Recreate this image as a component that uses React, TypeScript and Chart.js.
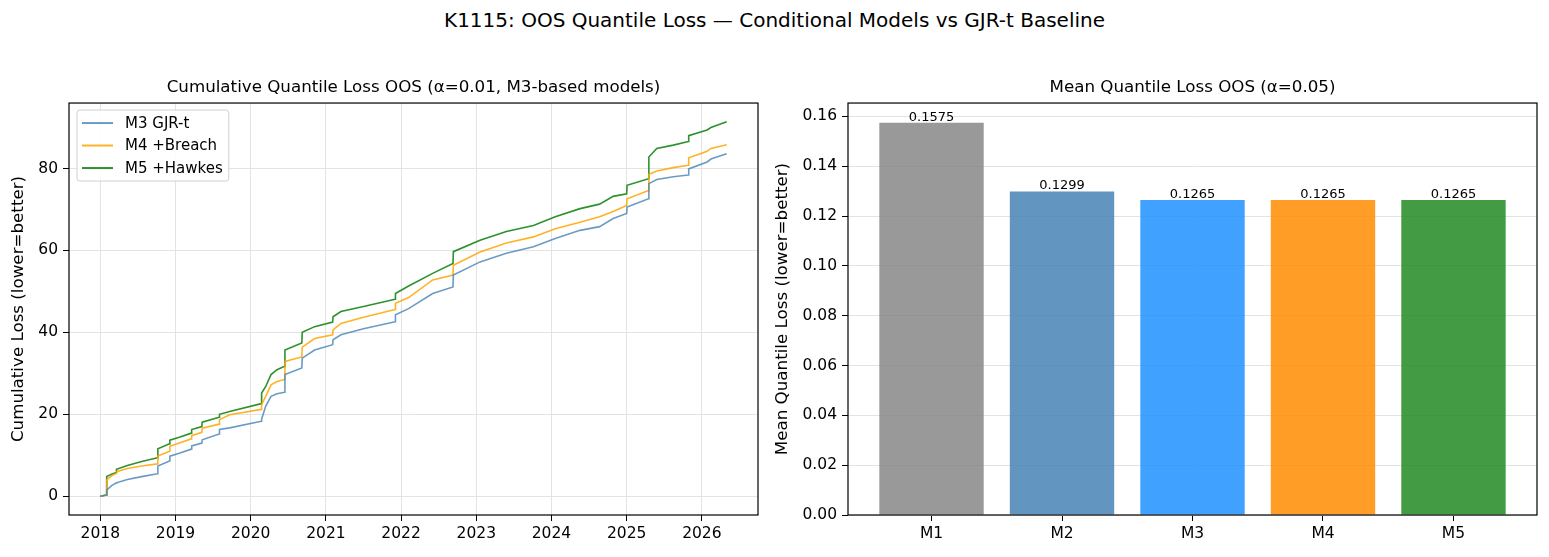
import React, { useEffect, useRef } from 'react';
import { Chart, registerables } from 'chart.js';

Chart.register(...registerables);

// ---------- data ----------
const dates = [
  2018.0, 2018.08, 2018.085, 2018.15, 2018.21, 2018.215, 2018.36, 2018.55, 2018.76, 2018.765,
  2018.92, 2018.925, 2019.05, 2019.21, 2019.215, 2019.35, 2019.355, 2019.58, 2019.585, 2019.72,
  2020.14, 2020.145, 2020.2, 2020.27, 2020.35, 2020.45, 2020.455, 2020.68, 2020.685, 2020.85,
  2021.09, 2021.095, 2021.2, 2021.5, 2021.92, 2021.925, 2022.1, 2022.42, 2022.69, 2022.695,
  2023.05, 2023.4, 2023.76, 2024.05, 2024.38, 2024.64, 2024.82, 2025.0, 2025.005, 2025.29,
  2025.295, 2025.4, 2025.62, 2025.82, 2025.825, 2026.07, 2026.12, 2026.33,
];
const m3Loss = [
  0, 0.3, 1.5, 2.6, 3.2, 3.3, 4.1, 4.8, 5.5, 7.4,
  8.6, 9.8, 10.5, 11.5, 12.3, 13.0, 13.8, 15.2, 16.3, 16.7,
  18.3, 18.8, 22.0, 24.4, 25.0, 25.4, 29.7, 31.3, 33.7, 35.7,
  37.0, 38.2, 39.4, 40.9, 42.6, 44.3, 45.8, 49.5, 51.1, 54.0,
  57.2, 59.3, 60.9, 62.9, 64.9, 65.8, 67.8, 69.0, 70.6, 72.6,
  76.3, 77.3, 78.0, 78.4, 79.9, 81.6, 82.3, 83.6,
];
const m4Loss = [
  0, 0.3, 4.0, 5.0, 5.6, 6.0, 6.8, 7.4, 7.9, 9.8,
  11.0, 12.2, 13.0, 14.0, 14.8, 15.6, 16.6, 17.6, 18.7, 19.9,
  21.2, 22.4, 24.4, 27.2, 28.0, 28.5, 32.9, 34.0, 36.4, 38.5,
  39.4, 40.6, 42.2, 43.7, 45.6, 47.1, 48.5, 52.8, 54.0, 56.4,
  59.6, 61.8, 63.3, 65.3, 66.9, 68.2, 69.5, 71.0, 72.6, 74.6,
  78.6, 79.4, 80.2, 80.8, 82.6, 84.2, 84.9, 85.8,
];
const m5Loss = [
  0, 0.3, 4.8, 5.4, 5.8, 6.6, 7.5, 8.5, 9.4, 11.6,
  12.8, 13.7, 14.4, 15.4, 16.3, 17.0, 18.1, 19.3, 20.0, 20.7,
  22.6, 25.2, 26.8, 29.7, 30.9, 31.7, 35.7, 37.4, 40.0, 41.4,
  42.5, 43.8, 45.1, 46.3, 48.1, 49.5, 51.3, 54.4, 56.8, 59.7,
  62.5, 64.6, 66.1, 68.2, 70.2, 71.3, 73.2, 73.8, 75.9, 77.5,
  82.8, 84.9, 85.7, 86.6, 88.0, 89.4, 90.0, 91.4,
];
const lineLabels = ['M3 GJR-t', 'M4 +Breach', 'M5 +Hawkes'];
const yearTicks = [2018, 2019, 2020, 2021, 2022, 2023, 2024, 2025, 2026];
const cumTicks = [0, 20, 40, 60, 80];

const models = ['M1', 'M2', 'M3', 'M4', 'M5'];
const meanLoss = [0.1575, 0.1299, 0.1265, 0.1265, 0.1265];
const barTicks = [0, 0.02, 0.04, 0.06, 0.08, 0.1, 0.12, 0.14, 0.16];

// ---------- styles ----------
const lineColors = ['rgba(70,130,180,0.8)', 'rgba(255,165,0,0.85)', 'rgba(34,139,34,0.95)'];
const barColors = [
  'rgba(128,128,128,0.8)',
  'rgba(70,130,180,0.85)',
  'rgba(30,144,255,0.85)',
  'rgba(255,140,0,0.85)',
  'rgba(34,139,34,0.85)',
];
const SANS = '"DejaVu Sans", sans-serif';

const framePlugin = {
  id: 'frame',
  afterDatasetsDraw(chart: any) {
    const { ctx, chartArea: a } = chart;
    ctx.save();
    ctx.strokeStyle = '#000';
    ctx.lineWidth = 1.2;
    ctx.strokeRect(a.left, a.top, a.right - a.left, a.bottom - a.top);
    ctx.restore();
  },
};

const boxLegendPlugin = {
  id: 'boxLegend',
  afterDatasetsDraw(chart: any) {
    const { ctx, chartArea: a } = chart;
    const x0 = a.left + 8;
    const y0 = a.top + 7;
    ctx.save();
    ctx.font = `15px ${SANS}`;
    let maxW = 0;
    chart.data.datasets.forEach((ds: any) => {
      maxW = Math.max(maxW, ctx.measureText(ds.label).width);
    });
    const w = 48 + maxW + 6;
    const h = 71;
    const r = 3;
    ctx.beginPath();
    ctx.moveTo(x0 + r, y0);
    ctx.lineTo(x0 + w - r, y0);
    ctx.quadraticCurveTo(x0 + w, y0, x0 + w, y0 + r);
    ctx.lineTo(x0 + w, y0 + h - r);
    ctx.quadraticCurveTo(x0 + w, y0 + h, x0 + w - r, y0 + h);
    ctx.lineTo(x0 + r, y0 + h);
    ctx.quadraticCurveTo(x0, y0 + h, x0, y0 + h - r);
    ctx.lineTo(x0, y0 + r);
    ctx.quadraticCurveTo(x0, y0, x0 + r, y0);
    ctx.closePath();
    ctx.fillStyle = 'rgba(255,255,255,0.85)';
    ctx.fill();
    ctx.strokeStyle = '#d0d0d0';
    ctx.lineWidth = 1;
    ctx.stroke();
    chart.data.datasets.forEach((ds: any, i: number) => {
      const cy = y0 + 13 + i * 22.5;
      ctx.strokeStyle = ds.borderColor;
      ctx.lineWidth = 2;
      ctx.beginPath();
      ctx.moveTo(x0 + 5, cy);
      ctx.lineTo(x0 + 36, cy);
      ctx.stroke();
      ctx.fillStyle = '#000';
      ctx.textBaseline = 'middle';
      ctx.textAlign = 'left';
      ctx.fillText(ds.label, x0 + 48, cy + 1);
    });
    ctx.restore();
  },
};

const barLabelPlugin = {
  id: 'barLabels',
  afterDatasetsDraw(chart: any) {
    const { ctx } = chart;
    const meta = chart.getDatasetMeta(0);
    const ds = chart.data.datasets[0];
    ctx.save();
    ctx.font = `13px ${SANS}`;
    ctx.fillStyle = '#000';
    ctx.textAlign = 'center';
    ctx.textBaseline = 'bottom';
    meta.data.forEach((bar: any, i: number) => {
      const v = ds.data[i].y as number;
      ctx.fillText(v.toFixed(4), bar.x, bar.y + 1);
    });
    ctx.restore();
  },
};

export default function App() {
  const leftRef = useRef<HTMLCanvasElement>(null);
  const rightRef = useRef<HTMLCanvasElement>(null);

  useEffect(() => {
    document.body.style.margin = '0';
    const tickFont = { family: SANS, size: 15.5 };

    const gridColor = '#e3e3e3';
    const leftMin = 2018.0 - 0.05 * (2026.33 - 2018.0);
    const leftMax = 2026.33 + 0.05 * (2026.33 - 2018.0);

    const left = new Chart(leftRef.current as HTMLCanvasElement, {
      type: 'line',
      data: {
        datasets: [m3Loss, m4Loss, m5Loss].map((arr, k) => ({
          label: lineLabels[k],
          data: dates.map((d, i) => ({ x: d, y: arr[i] })),
          borderColor: lineColors[k],
          backgroundColor: lineColors[k],
          borderWidth: 1.6,
          pointRadius: 0,
          tension: 0,
          fill: false,
        })),
      },
      options: {
        animation: false,
        responsive: false,
        devicePixelRatio: 1,
        layout: { padding: { left: 0, right: 12, top: 0, bottom: 0 } },
        plugins: {
          legend: { display: false },
          tooltip: { enabled: false },
          title: {
            display: true,
            fullSize: false,
            text: 'Cumulative Quantile Loss OOS (α=0.01, M3-based models)',
            color: '#000',
            font: { family: SANS, size: 16.7, weight: 'normal' },
            padding: { top: 78, bottom: 5 },
          },
        },
        scales: {
          x: {
            type: 'linear',
            min: leftMin,
            max: leftMax,
            afterBuildTicks: (s: any) => {
              s.ticks = yearTicks.map((v) => ({ value: v }));
            },
            afterFit: (s: any) => {
              s.height = 42;
            },
            ticks: {
              callback: (v: any) => String(v),
              color: '#000',
              font: tickFont,
              padding: 4,
              maxRotation: 0,
              autoSkip: false,
            },
            grid: { color: gridColor, lineWidth: 1, tickColor: '#000', tickLength: 6, drawTicks: true },
            border: { display: false },
          },
          y: {
            type: 'linear',
            min: -0.05 * 91.4,
            max: 91.4 * 1.05,
            afterBuildTicks: (s: any) => {
              s.ticks = cumTicks.map((v) => ({ value: v }));
            },
            afterFit: (s: any) => {
              s.width = 69;
            },
            ticks: {
              callback: (v: any) => String(v),
              color: '#000',
              font: tickFont,
              padding: 5,
            },
            grid: { color: gridColor, lineWidth: 1, tickColor: '#000', tickLength: 6, drawTicks: true },
            border: { display: false },
            title: {
              display: true,
              text: 'Cumulative Loss (lower=better)',
              color: '#000',
              font: { family: SANS, size: 16.7 },
              padding: { top: 9, bottom: 0 },
            },
          },
        },
      },
      plugins: [framePlugin, boxLegendPlugin],
    } as any);

    const right = new Chart(rightRef.current as HTMLCanvasElement, {
      type: 'bar',
      data: {
        datasets: [
          {
            label: 'Mean Quantile Loss',
            data: models.map((m, i) => ({ x: i, y: meanLoss[i] })),
            backgroundColor: barColors,
            borderWidth: 0,
            barPercentage: 1,
            categoryPercentage: 0.8,
          },
        ],
      },
      options: {
        animation: false,
        responsive: false,
        devicePixelRatio: 1,
        layout: { padding: { left: 0, right: 12, top: 0, bottom: 0 } },
        plugins: {
          legend: { display: false },
          tooltip: { enabled: false },
          title: {
            display: true,
            fullSize: false,
            text: 'Mean Quantile Loss OOS (α=0.05)',
            color: '#000',
            font: { family: SANS, size: 16.7, weight: 'normal' },
            padding: { top: 78, bottom: 5 },
          },
        },
        scales: {
          x: {
            type: 'linear',
            offset: false,
            min: -0.4 - 0.05 * 4.8,
            max: 4.4 + 0.05 * 4.8,
            afterBuildTicks: (s: any) => {
              s.ticks = models.map((m, i) => ({ value: i }));
            },
            afterFit: (s: any) => {
              s.height = 42;
            },
            ticks: {
              callback: (v: any) => models[Math.round(Number(v))] ?? '',
              color: '#000',
              font: tickFont,
              padding: 4,
              maxRotation: 0,
              autoSkip: false,
            },
            grid: { offset: false, drawOnChartArea: false, tickColor: '#000', tickLength: 6, drawTicks: true },
            border: { display: false },
          },
          y: {
            type: 'linear',
            min: 0,
            max: 0.1575 * 1.05,
            afterBuildTicks: (s: any) => {
              s.ticks = barTicks.map((v) => ({ value: v }));
            },
            afterFit: (s: any) => {
              s.width = 78;
            },
            ticks: {
              callback: (v: any) => Number(v).toFixed(2),
              color: '#000',
              font: tickFont,
              padding: 5,
            },
            grid: { color: gridColor, lineWidth: 1, tickColor: '#000', tickLength: 6, drawTicks: true },
            border: { display: false },
            title: {
              display: true,
              text: 'Mean Quantile Loss (lower=better)',
              color: '#000',
              font: { family: SANS, size: 16.7 },
              padding: { top: 3, bottom: 0 },
            },
          },
        },
      },
      plugins: [framePlugin, barLabelPlugin],
    } as any);

    return () => {
      left.destroy();
      right.destroy();
    };
  }, []);

  return (
    <div style={{ position: 'absolute', left: 0, top: 0, width: 1549, height: 557, background: '#fff' }}>
      <div
        style={{
          position: 'absolute',
          left: 0,
          top: 8,
          width: 1549,
          textAlign: 'center',
          fontFamily: SANS,
          fontSize: 20,
          lineHeight: '24px',
          color: '#000',
        }}
      >
        K1115: OOS Quantile Loss — Conditional Models vs GJR-t Baseline
      </div>
      <canvas ref={leftRef} width={770} height={557} style={{ position: 'absolute', left: 0, top: 0 }} />
      <canvas ref={rightRef} width={779} height={557} style={{ position: 'absolute', left: 770, top: 0 }} />
    </div>
  );
}
